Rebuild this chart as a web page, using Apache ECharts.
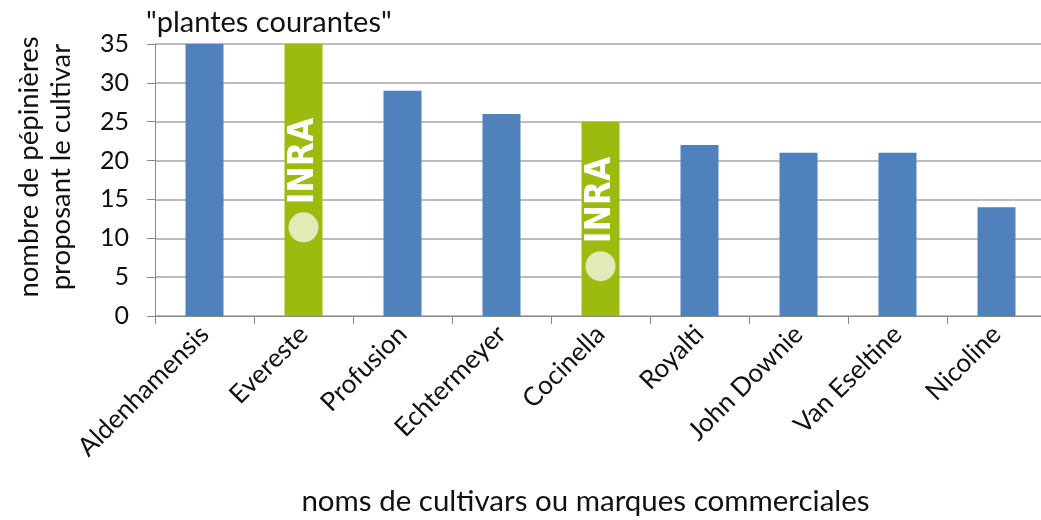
<!DOCTYPE html>
<html>
<head>
<meta charset="utf-8">
<script src="https://cdn.jsdelivr.net/npm/echarts@6/dist/echarts.min.js"></script>
<style>
  html, body { margin: 0; padding: 0; background: #fff; }
  #main { width: 1041px; height: 520px; }
</style>
</head>
<body>
<div id="main"></div>
<script>
var cultivars = ['Aldenhamensis', 'Evereste', 'Profusion', 'Echtermeyer', 'Cocinella', 'Royalti', 'John Downie', 'Van Eseltine', 'Nicoline'];
var nbPepinieres = [35, 35, 29, 26, 25, 22, 21, 21, 14];
var inra = [false, true, false, false, true, false, false, false, false];

var BLUE = '#4F81BD';
var GREEN = '#9BBB0F';
var FONT = 'Lato';

var myChart = echarts.init(document.getElementById('main'));

var data = nbPepinieres.map(function (v, i) {
    var item = { value: v, itemStyle: { color: inra[i] ? GREEN : BLUE } };
    if (inra[i]) {
        // logo INRA : pastille + texte, lu de bas en haut
        item.label = {
            show: true,
            position: 'inside',
            rotate: 90,
            formatter: '{c|}{t|INRA}',
            rich: {
                c: { width: 30, height: 30, borderRadius: 15, backgroundColor: 'rgba(255,255,255,0.7)' },
                t: { color: '#fff', fontSize: 35, fontWeight: 'bold', padding: [0, 0, 0, 8],
                     fontFamily: '"Liberation Sans Narrow", "DejaVu Sans Condensed", sans-serif' }
            }
        };
    }
    return item;
});

myChart.setOption({
    animation: false,
    title: {
        text: '"plantes courantes"',
        left: 141,
        top: 3,
        textStyle: { color: '#111', fontSize: 29, fontWeight: 'normal', fontFamily: FONT }
    },
    grid: { left: 155, top: 44, width: 891, height: 272, containLabel: false, outerBoundsMode: 'none' },
    xAxis: {
        type: 'category',
        data: cultivars,
        name: 'noms de cultivars ou marques commerciales',
        nameLocation: 'middle',
        nameGap: 170,
        nameTextStyle: { color: '#111', fontSize: 29.5, fontFamily: FONT, padding: [0, 0, 0, -30] },
        axisLine: { lineStyle: { color: '#888', width: 1 } },
        axisTick: { show: true, length: 8, alignWithLabel: false, lineStyle: { color: '#888' } },
        axisLabel: { rotate: 45, color: '#111', fontSize: 26, fontFamily: FONT, margin: 14, interval: 0 }
    },
    yAxis: {
        type: 'value',
        min: 0,
        max: 35,
        interval: 5,
        name: 'nombre de pépinières\nproposant le cultivar',
        nameLocation: 'middle',
        nameGap: 78,
        nameRotate: 90,
        nameTextStyle: { color: '#111', fontSize: 27.5, fontFamily: FONT, lineHeight: 32, padding: [0, 0, 0, 26] },
        axisLine: { show: true, lineStyle: { color: '#888', width: 1 } },
        axisTick: { show: true, length: 8, lineStyle: { color: '#888' } },
        axisLabel: { color: '#111', fontSize: 25, fontFamily: FONT, margin: 26 },
        splitLine: { lineStyle: { color: '#A6A6A6', width: 1.5 } }
    },
    series: [{
        type: 'bar',
        barWidth: 38,
        data: data
    }]
});
</script>
</body>
</html>
